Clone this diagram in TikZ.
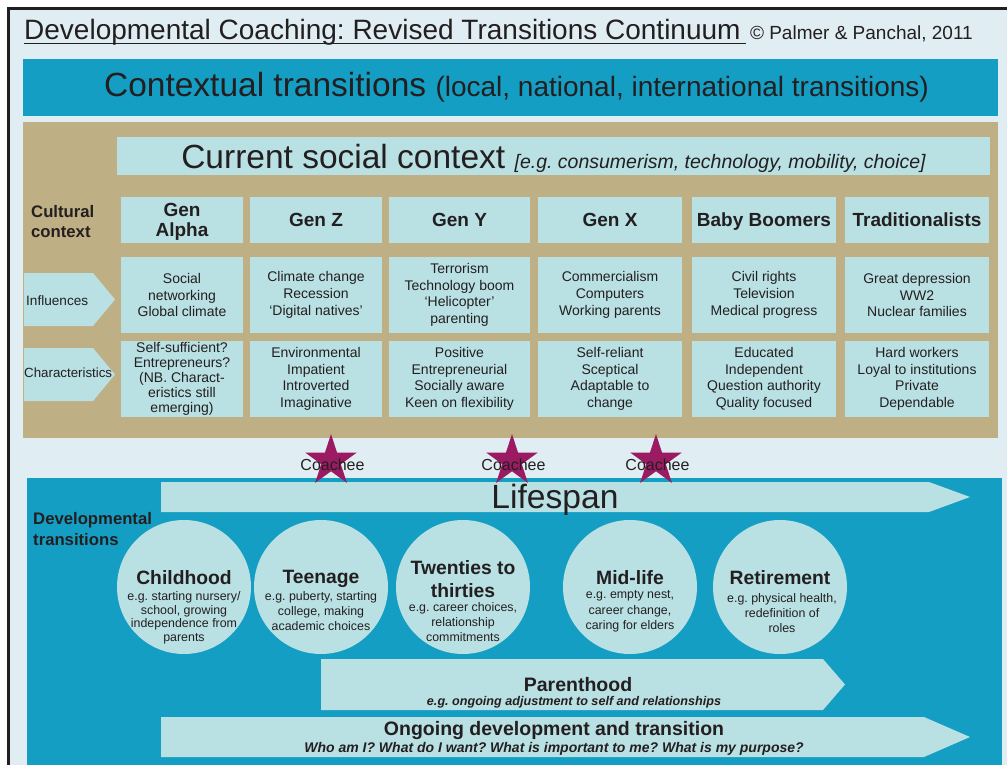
\documentclass[tikz,border=0pt]{standalone}
\usepackage{fontspec}
\setmainfont{Liberation Sans}
\usetikzlibrary{shapes.geometric, positioning}
\frenchspacing

\definecolor{pagebg}{RGB}{224,237,242}
\definecolor{ctxblue}{RGB}{21,158,195}
\definecolor{cellblue}{RGB}{185,224,227}
\definecolor{sandtan}{RGB}{191,175,133}
\definecolor{starpink}{RGB}{155,27,99}
\definecolor{inkgray}{RGB}{35,31,32}

\newcommand{\fsz}[2]{\fontsize{#1}{#2}\selectfont}

\begin{document}
\begin{tikzpicture}[x=1pt, y=-1pt, inner sep=0pt, text=inkgray]
    \tikzset{
      gen head/.style={
        fill=cellblue, minimum width=#1, minimum height=46pt, align=center,
        text depth=0pt, font=\fsz{19}{20}\bfseries
      },
      gen cell/.style={
        fill=cellblue, minimum width=#1, minimum height=76pt, align=center,
        font=\fsz{14}{16.7}
      },
      side label/.style={anchor=west, align=left, font=\fsz{13.6}{16}},
      stage/.style={circle, fill=cellblue, minimum size=134pt},
      stage title/.style={anchor=north, align=center, font=\fsz{19.3}{23}\bfseries},
      stage body/.style={anchor=north, align=center, font=\fsz{12.4}{#1}},
      coachee star/.style={
        star, star points=5, star point ratio=2.618,
        minimum size=54pt, fill=starpink
      },
    }
    \useasboundingbox (0,0) rectangle (1007,765);

    % Frame and heading
    \draw[line width=2.5pt, draw=inkgray, fill=pagebg] (8.5,8.5) rectangle (1030,790);
    \node (title) [anchor=base west, font=\fsz{28}{32}] at (24,40)
      {Developmental Coaching: Revised Transitions Continuum};
    \draw[inkgray, line width=1.3pt] ([yshift=-3.5pt]title.base west)
      -- ([xshift=5pt, yshift=-3.5pt]title.base east);
    \node (credit) [anchor=base west, font=\fsz{19}{22}] at ([xshift=9pt]title.base east)
      {© Palmer \& Panchal, 2011};

    % Contextual transitions bar
    \node (ctxbar) [fill=ctxblue, minimum width=975pt, minimum height=57pt] at (510.5,87.5) {};
    \node (ctxtext) [anchor=base, font=\fsz{33.5}{40}] at (516.5,97)
      {Contextual transitions {\fsz{28}{33}(local, national, international transitions)}};

    % Cultural context panel
    \fill[sandtan] (23,122) rectangle (998,438);
    \node (social) [fill=cellblue, minimum width=873pt, minimum height=38pt] at (553.5,156) {};
    \node (socialtext) [anchor=base, font=\fsz{33.5}{40}] at (553.5,168)
      {Current social context {\fsz{19.5}{22}\itshape [e.g. consumerism, technology, mobility, choice]}};
    \node (cultural) [anchor=west, align=left, font=\fsz{16.7}{20}\bfseries] at (31,222)
      {Cultural\\context};

    % Row labels
    \fill[cellblue] (24,273) -- (93,273) -- (115,299.5) -- (93,326) -- (24,326) -- cycle;
    \node (influences) [side label] at (26,301) {Influences};
    \fill[cellblue] (24,348) -- (93,348) -- (115,374.5) -- (93,401) -- (24,401) -- cycle;
    \node (characteristics) [side label, font=\fsz{13.3}{16}] at (24,373) {Characteristics};

    % Generations: heading, influences, characteristics
    \node (gen1) [gen head=122pt] at (182,220) {Gen\\Alpha};
    \node (infl1) [gen cell=122pt] at (182,295) {Social\\networking\\Global climate};
    \node (trait1) [gen cell=122pt, font=\fsz{14}{15}] at (182,379)
      {Self-sufficient?\\Entrepreneurs?\\(NB. Charact-\\eristics still\\emerging)};

    \node (gen2) [gen head=132pt] at (316,220) {Gen Z};
    \node (infl2) [gen cell=132pt] at (316,295) {Climate change\\Recession\\‘Digital natives’};
    \node (trait2) [gen cell=132pt] at (316,379) {Environmental\\Impatient\\Introverted\\Imaginative};

    \node (gen3) [gen head=141pt] at (459.5,220) {Gen Y};
    \node (infl3) [gen cell=141pt] at (459.5,295) {Terrorism\\Technology boom\\‘Helicopter’\\parenting};
    \node (trait3) [gen cell=141pt] at (459.5,379)
      {Positive\\Entrepreneurial\\Socially aware\\Keen on flexibility};

    \node (gen4) [gen head=144pt] at (610,220) {Gen X};
    \node (infl4) [gen cell=144pt] at (610,295) {Commercialism\\Computers\\Working parents};
    \node (trait4) [gen cell=144pt] at (610,379) {Self-reliant\\Sceptical\\Adaptable to\\change};

    \node (gen5) [gen head=144pt] at (764,220) {Baby Boomers};
    \node (infl5) [gen cell=144pt] at (764,295) {Civil rights\\Television\\Medical progress};
    \node (trait5) [gen cell=144pt] at (764,379)
      {Educated\\Independent\\Question authority\\Quality focused};

    \node (gen6) [gen head=144pt] at (917,220) {Traditionalists};
    \node (infl6) [gen cell=144pt] at (917,295) {Great depression\\WW2\\Nuclear families};
    \node (trait6) [gen cell=144pt] at (917,379)
      {Hard workers\\Loyal to institutions\\Private\\Dependable};

    % Developmental transitions panel
    \fill[ctxblue] (27,478) rectangle (1002,800);
    \fill[cellblue] (161,482) -- (929,482) -- (970,497) -- (929,512) -- (161,512) -- cycle;
    \node (lifespan) [anchor=base, font=\fsz{33.6}{40}] at (555,508) {Lifespan};
    \node (devtrans) [anchor=west, align=left, font=\fsz{16.7}{21.5}\bfseries] at (33,529)
      {Developmental\\transitions};

    % Coachees
    \foreach \n/\x in {1/331, 2/512, 3/656} {
      \node (star\n) [coachee star] at (\x,461) {};
      \node (coachee\n) [font=\fsz{16}{19}] at (\x+1.5,465) {Coachee};
    }

    % Life stages
    \foreach \n/\x in {1/184, 2/321, 3/463, 4/630, 5/780}
      \node (stage\n) [stage] at (\x,587) {};

    \node (stagetitle1) [stage title] at (184,570) {Childhood};
    \node (stagebody1) [stage body=13.5pt] at (184,591.5)
      {e.g. starting nursery/\\school, growing\\independence from\\parents};
    \node (stagetitle2) [stage title] at (321,570) {Teenage};
    \node (stagebody2) [stage body=15pt] at (321,591.5)
      {e.g. puberty, starting\\college, making\\academic choices};
    \node (stagetitle3) [stage title] at (463,560) {Twenties to\\thirties};
    \node (stagebody3) [stage body=15pt] at (463,602.5)
      {e.g. career choices,\\relationship\\commitments};
    \node (stagetitle4) [stage title] at (630,570) {Mid-life};
    \node (stagebody4) [stage body=15.5pt] at (630,590.5)
      {e.g. empty nest,\\career change,\\caring for elders};
    \node (stagetitle5) [stage title] at (780,570) {Retirement};
    \node (stagebody5) [stage body=15pt] at (782,593.5)
      {e.g. physical health,\\redefinition of\\roles};

    % Parenthood and ongoing development
    \fill[cellblue] (321,659) -- (823,659) -- (845,684.5) -- (823,710) -- (321,710) -- cycle;
    \node (parenthood) [anchor=base, font=\fsz{19.5}{23}\bfseries] at (578,691.5) {Parenthood};
    \node (parentnote) [anchor=base, font=\fsz{12.6}{15}\bfseries\itshape] at (574,705.5)
      {e.g. ongoing adjustment to self and relationships};
    \fill[cellblue] (161,717) -- (924,717) -- (970,737) -- (924,757) -- (161,757) -- cycle;
    \node (ongoing) [anchor=base, font=\fsz{19.5}{23}\bfseries] at (554,735.5)
      {Ongoing development and transition};
    \node (questions) [anchor=base, font=\fsz{14}{17}\bfseries\itshape] at (554,752)
      {Who am I? What do I want? What is important to me? What is my purpose?};
\end{tikzpicture}
\end{document}
